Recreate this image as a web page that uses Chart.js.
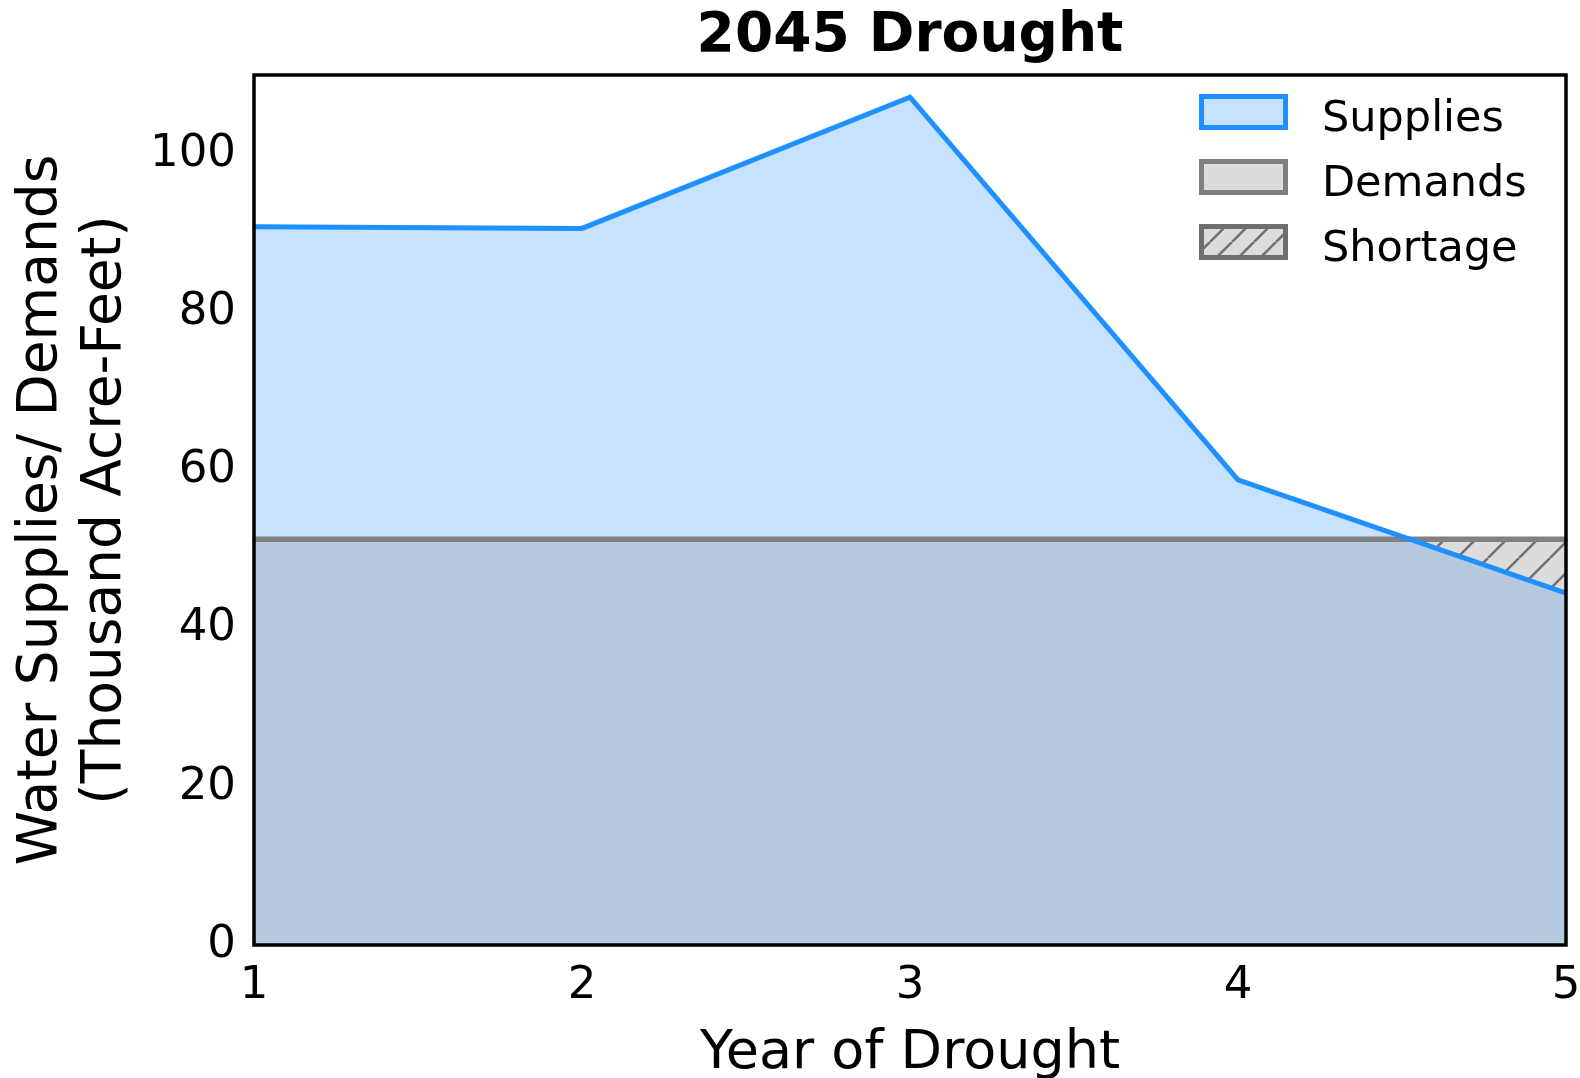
<!DOCTYPE html>
<html>
<head>
<meta charset="utf-8">
<title>2045 Drought</title>
<script src="https://cdn.jsdelivr.net/npm/chart.js@4.4.1/dist/chart.umd.min.js"></script>
<style>
    html, body { margin: 0; padding: 0; background: #fff; }
    #wrap { width: 1580px; height: 1078px; }
</style>
</head>
<body>
<div id="wrap"><canvas id="chart" width="1580" height="1078"></canvas></div>
<script>
// values
const years = [1, 2, 3, 4, 5];
const supplies = [90.8, 90.6, 107.2, 58.8, 44.5];
const demands = [51.3, 51.3, 51.3, 51.3, 51.3];
const yTicks = [0, 20, 40, 60, 80, 100];
const legendLabels = ['Supplies', 'Demands', 'Shortage'];

const FONT = 'DejaVu Sans';
const BLUE = '#1E90FF';
const BLUE_FILL = 'rgb(198, 226, 255)';
const DEMAND_FILL = 'rgb(180, 201, 222)';
const GRAY = '#808080';
const HATCH_BG = 'rgb(220, 220, 220)';
const HATCH_LINE = 'rgb(112, 112, 112)';

const canvas = document.getElementById('chart');
const ctx = canvas.getContext('2d');

function makeHatch(size) {
    const c = document.createElement('canvas');
    c.width = size;
    c.height = size;
    const g = c.getContext('2d');
    g.fillStyle = HATCH_BG;
    g.fillRect(0, 0, size, size);
    g.strokeStyle = HATCH_LINE;
    g.lineWidth = 2.6;
    for (let k = -1; k <= 1; k++) {
        g.beginPath();
        g.moveTo(k * size, size);
        g.lineTo(k * size + size, 0);
        g.stroke();
    }
    return ctx.createPattern(c, 'repeat');
}

const hatch = makeHatch(31);
const legendHatch = makeHatch(22);

function points(values) {
    return years.map((x, i) => ({ x, y: values[i] }));
}

// frame around the plot area, like matplotlib axes
const framePlugin = {
    id: 'frame',
    afterDatasetsDraw(chart) {
        const a = chart.chartArea;
        const c = chart.ctx;
        c.save();
        c.strokeStyle = '#000';
        c.lineWidth = 3.5;
        c.strokeRect(a.left, a.top, a.right - a.left, a.bottom - a.top);
        c.restore();
    }
};

// legend inside the top right corner of the plot
const legendPlugin = {
    id: 'boxLegend',
    afterDraw(chart) {
        const c = chart.ctx;
        const styles = [
            { fill: BLUE_FILL, stroke: BLUE },
            { fill: HATCH_BG, stroke: GRAY },
            { fill: legendHatch, stroke: 'rgb(110, 110, 110)' }
        ];
        const boxX = 1199, boxW = 89, boxH = 36, top = 94, gap = 65, lw = 5;
        c.save();
        c.font = '43px "' + FONT + '"';
        c.textBaseline = 'alphabetic';
        c.textAlign = 'left';
        legendLabels.forEach((label, i) => {
            const y = top + i * gap;
            c.fillStyle = styles[i].fill;
            c.fillRect(boxX + lw / 2, y + lw / 2, boxW - lw, boxH - lw);
            c.strokeStyle = styles[i].stroke;
            c.lineWidth = lw;
            c.strokeRect(boxX + lw / 2, y + lw / 2, boxW - lw, boxH - lw);
            c.fillStyle = '#000';
            c.fillText(label, 1322, y + boxH + 1);
        });
        c.restore();
    }
};

Chart.defaults.font.family = FONT;
Chart.defaults.color = '#000';

new Chart(ctx, {
    type: 'line',
    data: {
        datasets: [
            {
                label: legendLabels[0],
                data: points(supplies),
                borderColor: BLUE,
                borderWidth: 5,
                pointRadius: 0,
                fill: { target: 1, above: BLUE_FILL, below: hatch }
            },
            {
                label: legendLabels[1],
                data: points(demands),
                borderColor: GRAY,
                backgroundColor: DEMAND_FILL,
                borderWidth: 5.5,
                pointRadius: 0,
                fill: 'origin'
            }
        ]
    },
    options: {
        responsive: false,
        animation: false,
        layout: { autoPadding: false, padding: { left: 0, right: 14, top: 0, bottom: 0 } },
        plugins: {
            legend: { display: false },
            tooltip: { enabled: false },
            filler: { drawTime: 'beforeDatasetsDraw', propagate: false },
            title: {
                display: true,
                fullSize: false,
                text: '2045 Drought',
                color: '#000',
                font: { family: FONT, size: 55, weight: 'bold', lineHeight: 1.1 },
                padding: { top: 6, bottom: 8.5 }
            }
        },
        scales: {
            x: {
                type: 'linear',
                min: years[0],
                max: years[years.length - 1],
                afterBuildTicks: scale => { scale.ticks = years.map(v => ({ value: v })); },
                afterFit: scale => {
                    scale.height = 133;
                    scale.paddingLeft = 0;
                    scale.paddingRight = 0;
                },
                ticks: { padding: 14, maxRotation: 0, font: { size: 45 }, color: '#000' },
                grid: { display: false, drawTicks: false },
                border: { display: false },
                title: {
                    display: true,
                    text: 'Year of Drought',
                    color: '#000',
                    font: { size: 54, lineHeight: 0.9 },
                    padding: 0
                }
            },
            y: {
                min: 0,
                max: 110,
                afterBuildTicks: scale => { scale.ticks = yTicks.map(v => ({ value: v })); },
                afterFit: scale => {
                    scale.width = 254;
                    scale.paddingTop = 0;
                    scale.paddingBottom = 0;
                },
                ticks: { padding: 18, font: { size: 45 }, color: '#000' },
                grid: { display: false, drawTicks: false },
                border: { display: false },
                title: {
                    display: true,
                    text: ['Water Supplies/ Demands', '(Thousand Acre-Feet)'],
                    color: '#000',
                    font: { size: 55, lineHeight: 1.16 },
                    padding: { top: 10, bottom: 0 }
                }
            }
        }
    },
    plugins: [framePlugin, legendPlugin]
});
</script>
</body>
</html>
